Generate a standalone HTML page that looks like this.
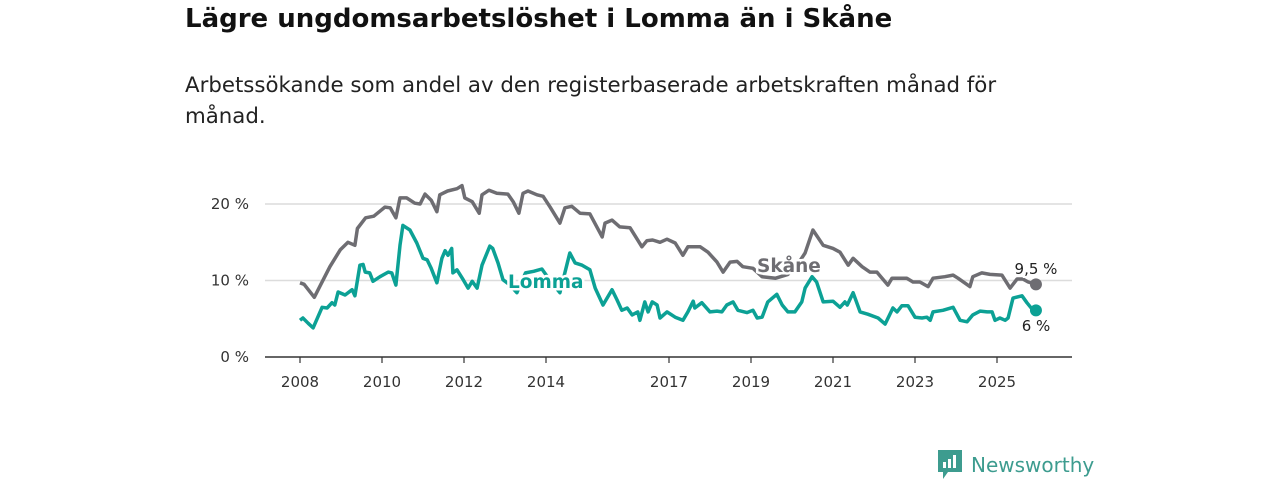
<!DOCTYPE html>
<html><head><meta charset="utf-8">
<style>
body{margin:0;background:#fff;width:1280px;height:480px;overflow:hidden;font-family:"DejaVu Sans","Liberation Sans",sans-serif;}
h1{position:absolute;left:185px;top:4px;margin:0;font-size:26px;font-weight:bold;color:#111;}
.sub{position:absolute;left:185px;top:70px;margin:0;font-size:21.3px;line-height:31px;color:#222;width:900px;}
svg{position:absolute;left:0;top:0;}
</style></head><body>
<h1>Lägre ungdomsarbetslöshet i Lomma än i Skåne</h1>
<p class="sub">Arbetssökande som andel av den registerbaserade arbetskraften månad för<br>månad.</p>
<svg id="chart" width="1280" height="480"></svg>
<div style="position:absolute;left:938px;top:450px;display:flex;align-items:center;">
<svg width="24" height="30" style="position:static"><path d="M0 0H24V22H10L5 29V22H0Z" fill="#3d9c8f"/><rect x="5" y="12" width="3" height="6" fill="#fff"/><rect x="10" y="9" width="3" height="9" fill="#fff"/><rect x="15" y="5" width="3" height="13" fill="#fff"/></svg>
<span style="margin-left:9px;font-size:20px;color:#3d9c8f;font-weight:500;">Newsworthy</span>
</div>
<script>
const yTicks=[0,10,20];
const yTickLabels=["0 %","10 %","20 %"];
const xTicks=[2008,2010,2012,2014,2017,2019,2021,2023,2025];
const skaneDates=[2008.0,2008.1,2008.35,2008.5,2008.73,2008.98,2009.17,2009.34,2009.4,2009.6,2009.8,2010.07,2010.2,2010.34,2010.44,2010.6,2010.8,2010.93,2011.05,2011.2,2011.34,2011.41,2011.6,2011.83,2011.95,2012.02,2012.2,2012.37,2012.44,2012.61,2012.8,2013.07,2013.2,2013.34,2013.44,2013.56,2013.78,2013.93,2014.1,2014.34,2014.46,2014.63,2014.83,2015.07,2015.37,2015.44,2015.61,2015.8,2016.05,2016.34,2016.46,2016.6,2016.78,2016.95,2017.15,2017.34,2017.46,2017.76,2017.95,2018.17,2018.32,2018.49,2018.66,2018.8,2019.05,2019.27,2019.6,2019.9,2020.1,2020.32,2020.51,2020.76,2021.0,2021.17,2021.37,2021.49,2021.71,2021.9,2022.07,2022.34,2022.44,2022.8,2022.95,2023.12,2023.32,2023.44,2023.73,2023.93,2024.05,2024.34,2024.41,2024.63,2024.83,2025.12,2025.32,2025.49,2025.63,2025.76,2025.95];
const skaneValues=[9.7,9.5,7.8,9.4,11.8,14.0,15.0,14.6,16.8,18.2,18.4,19.6,19.5,18.2,20.8,20.8,20.1,20.0,21.3,20.5,19.0,21.2,21.7,22.0,22.4,20.8,20.3,18.8,21.2,21.8,21.4,21.3,20.3,18.8,21.4,21.7,21.2,21.0,19.6,17.5,19.5,19.7,18.8,18.7,15.7,17.5,17.9,17.0,16.9,14.4,15.2,15.3,15.0,15.4,14.9,13.3,14.4,14.4,13.7,12.4,11.1,12.4,12.5,11.8,11.6,10.5,10.3,10.8,11.8,13.6,16.6,14.6,14.2,13.7,12.0,12.9,11.8,11.1,11.1,9.4,10.3,10.3,9.8,9.8,9.2,10.3,10.5,10.7,10.3,9.2,10.5,11.0,10.8,10.7,9.0,10.2,10.2,9.8,9.5];
const lommaDates=[2008.0,2008.07,2008.2,2008.32,2008.54,2008.66,2008.78,2008.85,2008.93,2009.1,2009.27,2009.34,2009.46,2009.54,2009.59,2009.7,2009.78,2009.95,2010.15,2010.24,2010.34,2010.44,2010.51,2010.68,2010.85,2011.0,2011.1,2011.2,2011.34,2011.46,2011.54,2011.61,2011.7,2011.73,2011.83,2011.98,2012.1,2012.2,2012.32,2012.44,2012.63,2012.7,2012.83,2012.95,2013.1,2013.29,2013.5,2013.7,2013.9,2014.1,2014.34,2014.58,2014.71,2014.88,2015.07,2015.2,2015.39,2015.61,2015.73,2015.85,2015.98,2016.1,2016.24,2016.29,2016.41,2016.49,2016.59,2016.71,2016.78,2016.95,2017.15,2017.34,2017.46,2017.59,2017.63,2017.8,2018.0,2018.17,2018.29,2018.41,2018.56,2018.68,2018.9,2019.05,2019.15,2019.27,2019.41,2019.63,2019.76,2019.9,2020.07,2020.24,2020.32,2020.49,2020.6,2020.76,2021.0,2021.17,2021.29,2021.35,2021.49,2021.66,2021.85,2022.1,2022.27,2022.46,2022.56,2022.68,2022.83,2023.0,2023.17,2023.29,2023.37,2023.44,2023.68,2023.93,2024.1,2024.27,2024.41,2024.59,2024.76,2024.88,2024.95,2025.07,2025.2,2025.27,2025.39,2025.61,2025.73,2025.88,2025.95];
const lommaValues=[4.8,5.1,4.4,3.8,6.5,6.4,7.1,6.8,8.5,8.1,8.8,8.0,12.0,12.1,11.1,11.0,9.9,10.5,11.1,11.0,9.4,14.6,17.2,16.6,14.9,12.9,12.7,11.6,9.7,12.9,13.9,13.3,14.2,11.0,11.4,10.1,9.0,9.9,9.0,12.0,14.5,14.2,12.3,10.1,9.5,8.4,11.0,11.2,11.5,10.0,8.4,13.6,12.3,12.0,11.4,9.0,6.8,8.8,7.5,6.1,6.4,5.5,5.9,4.8,7.2,5.9,7.2,6.8,5.1,5.9,5.2,4.8,5.9,7.3,6.4,7.1,5.9,6.0,5.9,6.8,7.2,6.1,5.8,6.1,5.1,5.2,7.2,8.2,6.8,5.9,5.9,7.2,9.0,10.5,9.8,7.2,7.3,6.5,7.2,6.8,8.4,5.9,5.6,5.1,4.3,6.4,5.9,6.7,6.7,5.2,5.1,5.2,4.8,5.9,6.1,6.5,4.8,4.6,5.5,6.0,5.9,5.9,4.8,5.1,4.8,5.1,7.7,8.0,7.1,6.1,6.1];

const NS='http://www.w3.org/2000/svg';
const svg=document.getElementById('chart');
const x=t=>300+(t-2008)*41;
const y=v=>357-v*7.65;
function mk(tag,attrs,parent){const e=document.createElementNS(NS,tag);for(const k in attrs)e.setAttribute(k,attrs[k]);(parent||svg).appendChild(e);return e;}
yTicks.forEach((v,i)=>{
  if(v>0){const g=mk('line',{x1:265,x2:1072,y1:y(v),y2:y(v),stroke:'#dcdcdc','stroke-width':1.5});
  
  }
  const t=mk('text',{x:249,y:y(v)+5,'text-anchor':'end','font-size':15,fill:'#333'});t.textContent=yTickLabels[i];
  
  
});
const ax=mk('line',{x1:265,x2:1072,y1:357,y2:357,stroke:'#333','stroke-width':1.5});


xTicks.forEach(v=>{
  const tk=mk('line',{x1:x(v),x2:x(v),y1:357,y2:363,stroke:'#333','stroke-width':1.2});
  
  
  const t=mk('text',{x:x(v),y:387,'text-anchor':'middle','font-size':15,fill:'#333'});t.textContent=v;
  
  
});
function line(d,v,col,name){
  const p=mk('path',{d:d.map((t,i)=>(i?'L':'M')+x(t).toFixed(1)+' '+y(v[i]).toFixed(1)).join(''),fill:'none',stroke:col,'stroke-width':3.5,'stroke-linejoin':'round'});
  
  
  const c=mk('circle',{cx:x(d[d.length-1]),cy:y(v[v.length-1]),r:6,fill:col});
  
  
}
line(skaneDates,skaneValues,'#6e6d72','skane-line');
line(lommaDates,lommaValues,'#0ca195','lomma-line');
function lab(txt,xx,yy,col,size,bold,name,anchor){
  const t=mk('text',{x:xx,y:yy,'font-size':size,fill:col,'font-weight':bold?'bold':'normal',stroke:'#fff','stroke-width':bold?5:4,'paint-order':'stroke','text-anchor':anchor||'start'});
  t.textContent=txt;
  
  
}
lab('Skåne',757,272,'#6e6d72',18.5,true,'skane-label');
lab('Lomma',508,288,'#0ca195',18.5,true,'lomma-label');
lab('9,5 %',1036,274,'#222',15,false,'skane-end-value','middle');
lab('6 %',1036,331,'#222',15,false,'lomma-end-value','middle');
</script>
</body></html>
